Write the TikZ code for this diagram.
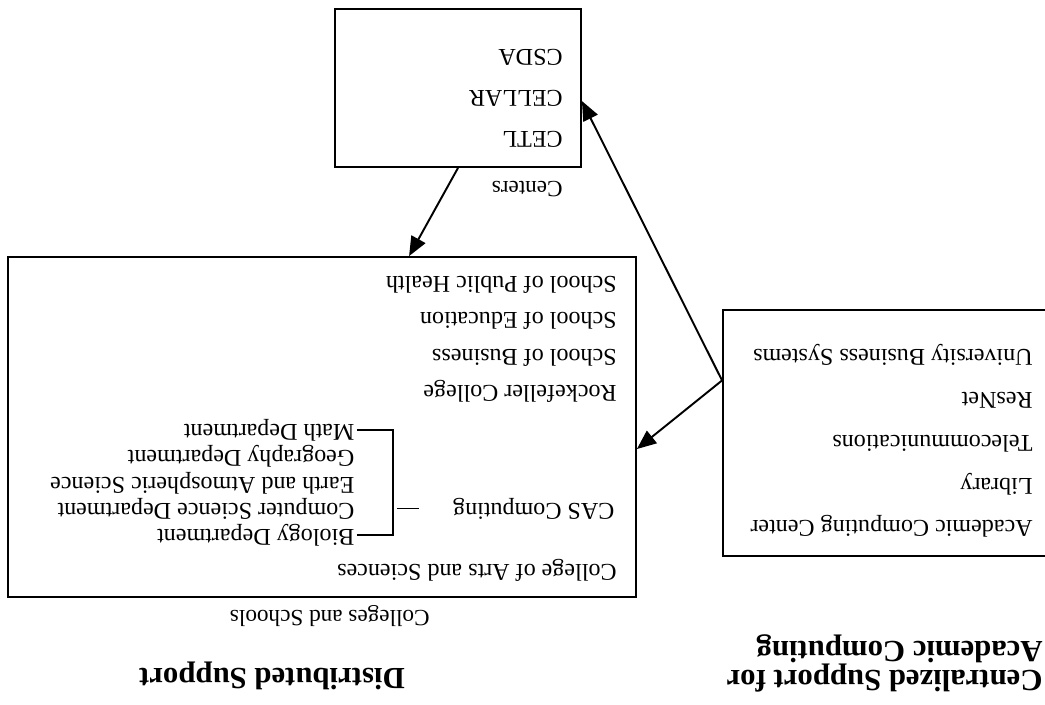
\documentclass[tikz,border=0pt]{standalone}
\usepackage{fontspec}
\setmainfont{Liberation Serif}
\usepackage{tikz}
\usetikzlibrary{arrows.meta}
\newcommand{\boxfont}[1]{\fontsize{13.7}{#1}\selectfont}

\begin{document}
\begin{tikzpicture}[rotate=180,transform shape,x=0.02cm,y=0.02cm,
  >={Triangle[length=11pt,width=9pt]}]
\tikzstyle{box}=[rectangle,draw,line width=1.1pt,inner sep=0pt]
\tikzstyle{list}=[inner sep=0pt,align=left,anchor=north west]
\tikzstyle{txt}=[inner sep=0pt,anchor=base west,font=\boxfont{16}]
\tikzstyle{dept}=[txt,outer sep=1.5pt]
\tikzstyle{lbl}=[inner sep=0pt,anchor=base west,font=\fontsize{13.2}{15}\selectfont]
\tikzstyle{title}=[inner sep=0pt,align=left,font=\bfseries\fontsize{17.5}{16}\selectfont]
\useasboundingbox (0,0) rectangle (1045,704);
% the page is printed upside down
\node[box,minimum width=6.84cm,minimum height=4.92cm] (service) at (151,433) {};
\node[box,minimum width=4.92cm,minimum height=3.16cm] (centers) at (587,88) {};
\node[box,minimum width=12.56cm,minimum height=6.8cm] (colleges) at (723,427) {};
\node[list,font=\boxfont{24.4}] (serviceList) at (12,538)
  {Academic Computing Center\\Library\\Telecommunications\\ResNet\\University Business Systems};
\node[list,font=\boxfont{23.3}] (centersList) at (482,148) {CETL\\CELLAR\\CSDA};
\node[lbl] (centersLbl) at (482,181) {Centers};
\node[txt] (arts) at (428,564) {College of Arts and Sciences};
\node[dept] (cas) at (428,503) {CAS Computing};
\node[dept] (bio) at (688,529) {Biology Department};
\node[dept] (cs) at (688,503) {Computer Science Department};
\node[dept] (earth) at (688,477) {Earth and Atmospheric Science};
\node[dept] (geo) at (688,450) {Geography Department};
\node[dept] (math) at (688,424) {Math Department};
\node[list,font=\boxfont{20.8}] (schoolsList) at (428,403)
  {Rockefeller College\\School of Business\\School of Education\\School of Public Health};
\node[lbl] (collegesLbl) at (615,610) {Colleges and Schools};
\node[title,anchor=north west] (centralTitle) at (2,692) {Centralized Support for\\Academic Computing};
\node[title,anchor=base] (distTitle) at (773,668) {Distributed Support};
\draw[line width=0.9pt] (bio.west) -- ++(-36,0) |- (math.west);
\draw[line width=0.5pt] (cas.east -| bio.west) ++(-40,0) -- ++(-22,0);
\draw[->,line width=1.1pt] (service.-17) -- (centers.174);
\draw[->,line width=1.1pt] (service.-17) -- (colleges.176);
\draw[->,line width=1.1pt] (centers.north) -- (colleges.243);
\end{tikzpicture}
\end{document}
